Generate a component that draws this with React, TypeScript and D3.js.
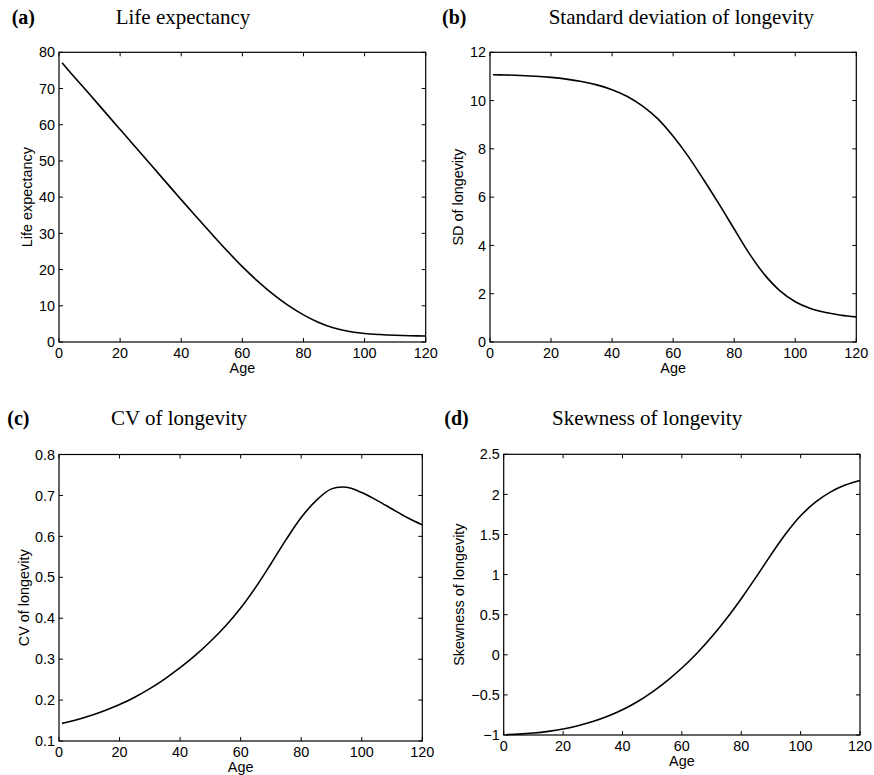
import React from "react";
import * as d3 from "d3";

const ages = [1, 5, 10, 15, 20, 25, 30, 35, 40, 45, 50, 55, 60, 65, 70, 75, 80, 85, 90, 95, 100, 105, 110, 115, 120];
const lifeExpectancy = [77.1, 73.2, 68.4, 63.55, 58.7, 53.85, 49.0, 44.15, 39.3, 34.5, 29.8, 25.2, 20.8, 16.8, 13.2, 10.1, 7.5, 5.4, 3.85, 2.9, 2.35, 2.05, 1.85, 1.73, 1.66];
const sdLongevity = [11.07, 11.06, 11.04, 11.01, 10.96, 10.89, 10.79, 10.65, 10.45, 10.17, 9.77, 9.24, 8.52, 7.68, 6.72, 5.72, 4.68, 3.65, 2.78, 2.12, 1.67, 1.39, 1.22, 1.11, 1.04];
const cvLongevity = [0.143, 0.15, 0.161, 0.174, 0.189, 0.207, 0.228, 0.252, 0.279, 0.309, 0.343, 0.381, 0.425, 0.476, 0.533, 0.592, 0.646, 0.688, 0.716, 0.72, 0.707, 0.688, 0.667, 0.646, 0.628];
const skewLongevity = [-0.995, -0.989, -0.976, -0.955, -0.925, -0.885, -0.833, -0.767, -0.685, -0.585, -0.465, -0.325, -0.165, 0.017, 0.222, 0.45, 0.7, 0.968, 1.246, 1.508, 1.733, 1.903, 2.028, 2.116, 2.174];

const xTicks = [0, 20, 40, 60, 80, 100, 120];
const yTicksA = [0, 10, 20, 30, 40, 50, 60, 70, 80];
const yTicksB = [0, 2, 4, 6, 8, 10, 12];
const yTicksC = [0.1, 0.2, 0.3, 0.4, 0.5, 0.6, 0.7, 0.8];
const yTicksD = [-1, -0.5, 0, 0.5, 1, 1.5, 2, 2.5];

const panelLetters = ["(a)", "(b)", "(c)", "(d)"];
const panelTitles = ["Life expectancy", "Standard deviation of longevity", "CV of longevity", "Skewness of longevity"];
const yLabels = ["Life expectancy", "SD of longevity", "CV of longevity", "Skewness of longevity"];
const xLabel = "Age";

const SANS = "'Liberation Sans', Arial, Helvetica, sans-serif";
const SERIF = "'Liberation Serif', 'Times New Roman', serif";
const FS = 14.4;

type PanelProps = {
  box: { x0: number; x1: number; y0: number; y1: number };
  values: number[];
  yTicks: number[];
  yDomain: [number, number];
  letter: string;
  title: string;
  letterX: number;
  titleX: number;
  titleY: number;
  yLabel: string;
  yLabelX: number;
  fmt: (v: number) => string;
};

function Panel(p: PanelProps) {
  const { box } = p;
  const x = d3.scaleLinear().domain([0, 120]).range([box.x0, box.x1]);
  const y = d3.scaleLinear().domain(p.yDomain).range([box.y1, box.y0]);
  const line = d3
    .line<number>()
    .x((_, i) => x(ages[i]))
    .y((v) => y(v))
    .curve(d3.curveCatmullRom.alpha(0.5));
  const tl = 4;
  return (
    <g>
      <text x={p.letterX} y={p.titleY} fontFamily={SERIF} fontWeight="bold" fontSize={20}>
        {p.letter}
      </text>
      <text x={p.titleX} y={p.titleY} fontFamily={SERIF} fontSize={21}>
        {p.title}
      </text>
      <rect x={box.x0} y={box.y0} width={box.x1 - box.x0} height={box.y1 - box.y0} fill="white" stroke="none" />
      {xTicks.map((t) => (
        <g key={"x" + t}>
          <line x1={x(t)} x2={x(t)} y1={box.y1} y2={box.y1 - tl} stroke="black" strokeWidth={1} />
          <line x1={x(t)} x2={x(t)} y1={box.y0} y2={box.y0 + tl} stroke="black" strokeWidth={1} />
          <text x={x(t)} y={box.y1 + 16} textAnchor="middle" fontFamily={SANS} fontSize={FS}>
            {t}
          </text>
        </g>
      ))}
      {p.yTicks.map((t) => (
        <g key={"y" + t}>
          <line x1={box.x0} x2={box.x0 + tl} y1={y(t)} y2={y(t)} stroke="black" strokeWidth={1} />
          <line x1={box.x1} x2={box.x1 - tl} y1={y(t)} y2={y(t)} stroke="black" strokeWidth={1} />
          <text x={box.x0 - 4} y={y(t)} dy="0.36em" textAnchor="end" fontFamily={SANS} fontSize={FS}>
            {p.fmt(t)}
          </text>
        </g>
      ))}
      <path d={line(p.values) || ""} fill="none" stroke="black" strokeWidth={1.6} />
      <rect x={box.x0} y={box.y0} width={box.x1 - box.x0} height={box.y1 - box.y0} fill="none" stroke="black" strokeWidth={1.2} />
      <text x={(box.x0 + box.x1) / 2} y={box.y1 + 31} textAnchor="middle" fontFamily={SANS} fontSize={FS}>
        {xLabel}
      </text>
      <text
        transform={`translate(${p.yLabelX},${(box.y0 + box.y1) / 2}) rotate(-90)`}
        textAnchor="middle"
        fontFamily={SANS}
        fontSize={FS}
      >
        {p.yLabel}
      </text>
    </g>
  );
}

const fmtNum = (v: number) => (v < 0 ? "\u2212" + String(Math.abs(v)) : String(v));

export default function App() {
  return (
    <svg
      width={874}
      height={775}
      style={{ position: "absolute", left: 0, top: 0, background: "white" }}
    >
      <rect x={0} y={0} width={874} height={775} fill="white" />
      <Panel
        box={{ x0: 59, x1: 425.7, y0: 52.3, y1: 342 }}
        values={lifeExpectancy}
        yTicks={yTicksA}
        yDomain={[0, 80]}
        letter={panelLetters[0]}
        title={panelTitles[0]}
        letterX={11.7}
        titleX={115.7}
        titleY={24.3}
        yLabel={yLabels[0]}
        yLabelX={32}
        fmt={fmtNum}
      />
      <Panel
        box={{ x0: 490, x1: 856.3, y0: 52.3, y1: 342 }}
        values={sdLongevity}
        yTicks={yTicksB}
        yDomain={[0, 12]}
        letter={panelLetters[1]}
        title={panelTitles[1]}
        letterX={442}
        titleX={548.7}
        titleY={24.3}
        yLabel={yLabels[1]}
        yLabelX={463}
        fmt={fmtNum}
      />
      <Panel
        box={{ x0: 59, x1: 422.3, y0: 454.5, y1: 741 }}
        values={cvLongevity}
        yTicks={yTicksC}
        yDomain={[0.1, 0.8]}
        letter={panelLetters[2]}
        title={panelTitles[2]}
        letterX={7.3}
        titleX={111}
        titleY={425}
        yLabel={yLabels[2]}
        yLabelX={28.6}
        fmt={fmtNum}
      />
      <Panel
        box={{ x0: 503.7, x1: 860, y0: 454.3, y1: 735 }}
        values={skewLongevity}
        yTicks={yTicksD}
        yDomain={[-1, 2.5]}
        letter={panelLetters[3]}
        title={panelTitles[3]}
        letterX={444.3}
        titleX={552}
        titleY={425}
        yLabel={yLabels[3]}
        yLabelX={464}
        fmt={fmtNum}
      />
    </svg>
  );
}
